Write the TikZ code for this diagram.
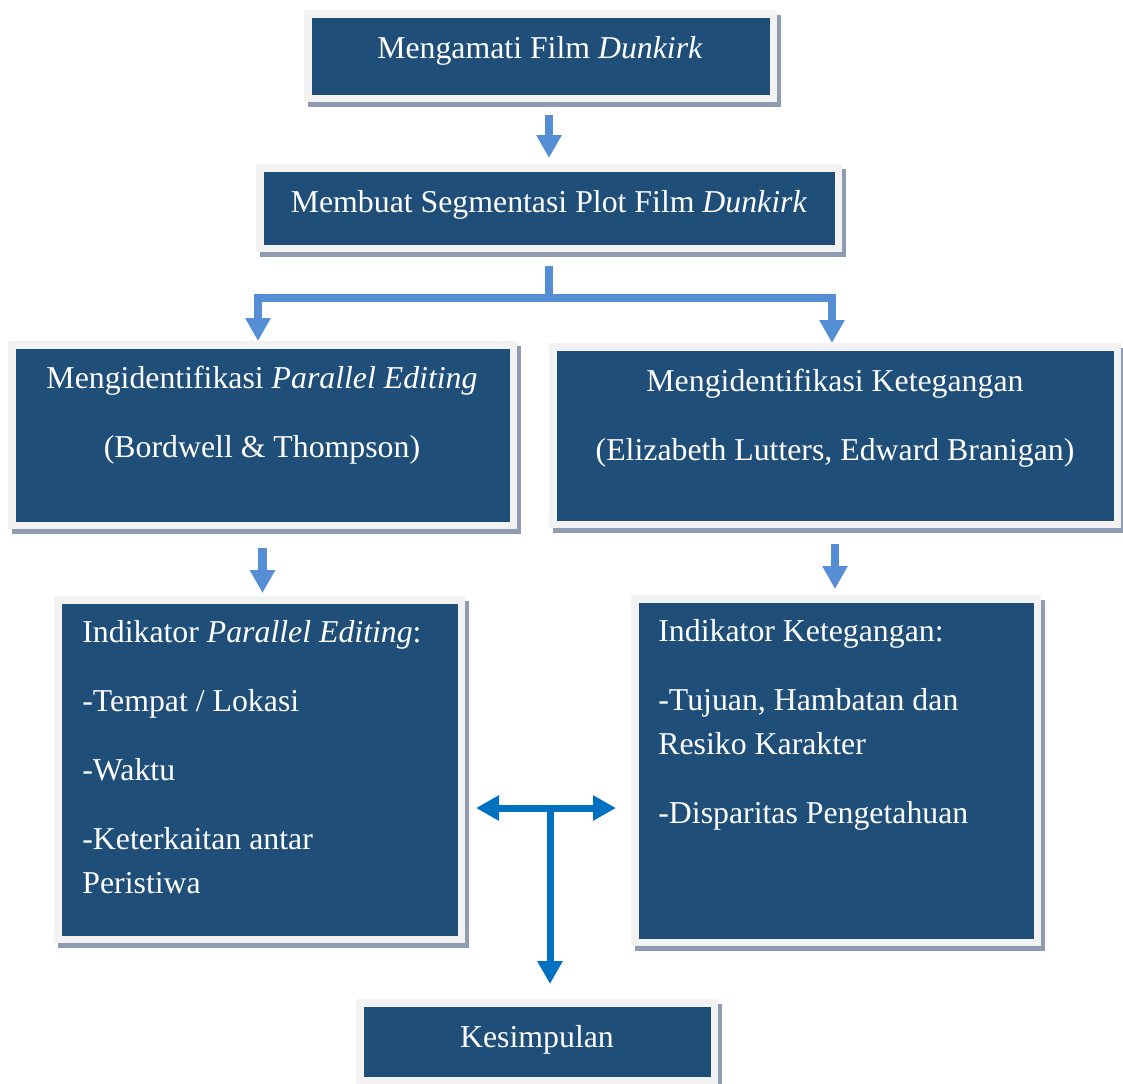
\documentclass[tikz,border=0pt]{standalone}
\usepackage{fontspec}
\setmainfont{Liberation Serif}
\usetikzlibrary{arrows.meta, shadows}

\definecolor{boxblue}{HTML}{1F4E79}
\definecolor{framegray}{HTML}{F2F2F2}
\definecolor{shadowgray}{HTML}{8F9BB0}
\definecolor{flowblue}{HTML}{558ED5}
\definecolor{teeblue}{HTML}{0070C0}

\tikzset{
  box/.style = {rectangle, fill=boxblue, draw=framegray, line width=3.75pt,
    copy shadow={shadow xshift=2pt, shadow yshift=-2.5pt, fill=shadowgray, draw=shadowgray}},
  txt/.style = {text=white, inner sep=0pt, font=\fontsize{15.9}{22}\selectfont},
  flow/.style = {draw=flowblue, line width=4.25pt},
  flowarrow/.style = {flow, -{Triangle[width=12pt, length=11.5pt]}},
  teeline/.style = {draw=teeblue, line width=3.5pt},
  teehead/.tip = {Triangle[width=12pt, length=11.5pt]}
}

\begin{document}
\begin{tikzpicture}[x=0.5pt, y=-0.5pt]
\useasboundingbox (0,0) rectangle (1123,1083);

\node[box, minimum width=232.75pt, minimum height=42.25pt] (b1) at (540.5,56) {};
\node[box, minimum width=289.25pt, minimum height=40.25pt] (b2) at (549,208) {};
\node[box, minimum width=250.75pt, minimum height=90.25pt] (b3) at (262.5,435) {};
\node[box, minimum width=282.25pt, minimum height=88.75pt] (b4) at (835,435.5) {};
\node[box, minimum width=201.75pt, minimum height=169.75pt] (b5) at (259.5,769.5) {};
\node[box, minimum width=201.25pt, minimum height=171.75pt] (b6) at (836,770.5) {};
\node[box, minimum width=177.25pt, minimum height=38.75pt] (b7) at (537,1041.5) {};

\node[txt, anchor=base] (t1) at (540,58) {Mengamati Film \textit{Dunkirk}};
\node[txt, anchor=base] (t2) at (549,212) {Membuat Segmentasi Plot Film \textit{Dunkirk}};
\node[txt, anchor=base, align=center] (t3) at (262,457)
  {Mengidentifikasi \textit{Parallel Editing}\\[12.5pt](Bordwell \& Thompson)};
\node[txt, anchor=base, align=center] (t4) at (835,460)
  {Mengidentifikasi Ketegangan\\[12.5pt](Elizabeth Lutters, Edward Branigan)};
\node[txt, anchor=base west, align=left] (t5) at (82,893)
  {Indikator \textit{Parallel Editing}:\\[12.5pt]-Tempat / Lokasi\\[12.5pt]-Waktu\\[12.5pt]-Keterkaitan antar\\Peristiwa};
\node[txt, anchor=base west, align=left] (t6) at (658,823)
  {Indikator Ketegangan:\\[12.5pt]-Tujuan, Hambatan dan\\Resiko Karakter\\[12.5pt]-Disparitas Pengetahuan};
\node[txt, anchor=base] (t7) at (537,1047) {Kesimpulan};

\draw[flowarrow, shorten <=6.5pt, shorten >=3pt] (b2.north |- b1.south) -- (b2.north);

\coordinate (fork) at (549,298);
\coordinate (forkL) at (258,298);
\coordinate (forkR) at (832,298);
\draw[flow, shorten <=7pt] (b2.south) -- (fork);
\draw[flow, line cap=rect] (forkL) -- (forkR);
\draw[flowarrow] (forkL) -- (forkL |- b3.north);
\draw[flowarrow] (forkR) -- (forkR |- b4.north);

\draw[flowarrow, shorten <=9.5pt, shorten >=1.5pt] (b3.south) -- (b3.south |- b5.north);
\draw[flowarrow, shorten <=8pt, shorten >=3pt] (b4.south) -- (b4.south |- b6.north);

\coordinate (tee) at (550,808);
\draw[teeline, teehead-teehead, shorten <=5.5pt, shorten >=7.5pt] (b5.east |- tee) -- (b6.west |- tee);
\draw[teeline, -teehead, shorten >=7.5pt] (tee) -- (tee |- b7.north);
\end{tikzpicture}
\end{document}
